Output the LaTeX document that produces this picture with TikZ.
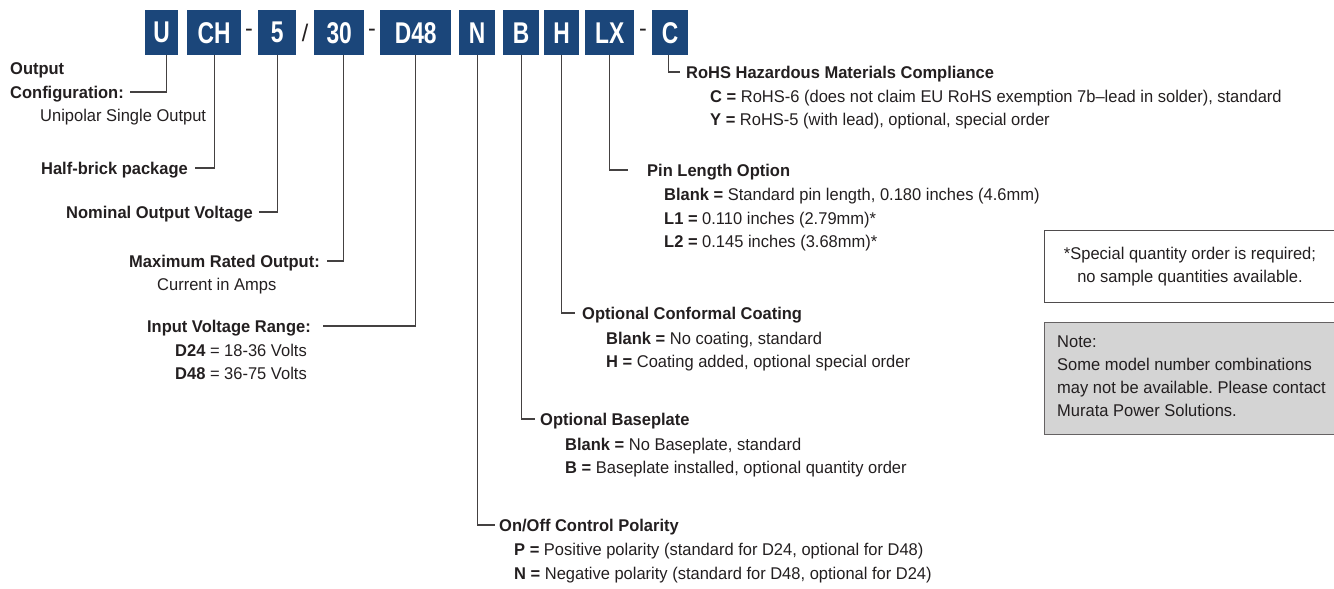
\documentclass[tikz,border=0pt]{standalone}
\usepackage{fontspec}
\setmainfont{Liberation Sans}[FakeStretch=0.97]
\newfontfamily\boxfont{Liberation Sans}[FakeStretch=0.76]
\definecolor{boxblue}{RGB}{27,70,122}
\definecolor{ink}{RGB}{35,31,32}
\definecolor{notegray}{RGB}{212,212,212}
\frenchspacing
\begin{document}
\begin{tikzpicture}[x=1pt,y=-1pt,
 code/.style={fill=boxblue, text=white, font=\boxfont\bfseries\fontsize{30}{30}\selectfont, minimum height=45pt, inner sep=0pt, anchor=north west},
 sepch/.style={text=ink, font=\fontsize{24}{24}\selectfont, inner sep=0pt},
 ttl/.style={font=\bfseries\fontsize{17}{20}\selectfont, text=ink, inner sep=0pt, anchor=base west},
 ttlr/.style={ttl, anchor=base east},
 txt/.style={font=\fontsize{17}{20}\selectfont, text=ink, inner sep=0pt, anchor=base west},
 lead/.style={draw=ink!85, line width=1.1pt}
]
\useasboundingbox (0,0) rectangle (1334,589);
% code boxes
\node[code, minimum width=33pt] (bU) at (145,10) {U};
\node[code, minimum width=54pt] (bCH) at (187,10) {CH};
\node[sepch] (s1) at (249,33) {-};
\node[code, minimum width=38pt] (b5) at (258,10) {5};
\node[sepch] (s2) at (305,33) {/};
\node[code, minimum width=50pt] (b30) at (314,10) {30};
\node[sepch] (s3) at (372,33) {-};
\node[code, minimum width=71pt] (bD) at (380,10) {D48};
\node[code, minimum width=36pt] (bN) at (459,10) {N};
\node[code, minimum width=36pt] (bB) at (503,10) {B};
\node[code, minimum width=35pt] (bH) at (544,10) {H};
\node[code, minimum width=49pt] (bLX) at (585,10) {LX};
\node[sepch] (s4) at (643,33) {-};
\node[code, minimum width=36pt] (bC) at (652,10) {C};
% left labels
\node[ttl] (lU1) at (10,74) {Output};
\node[ttl] (lU2) at (10,98) {Configuration:};
\node[txt] (lU3) at (40,121) {Unipolar Single Output};
\node[ttlr] (lCH) at (188,174) {Half-brick package};
\node[ttlr] (l5) at (253,218) {Nominal Output Voltage};
\node[ttlr] (l30) at (320,267) {Maximum Rated Output:};
\node[txt] (l30b) at (157,290) {Current in Amps};
\node[ttlr] (lD) at (311,332) {Input Voltage Range:};
\node[txt] (lD1) at (175,356) {\textbf{D24} = 18-36 Volts};
\node[txt] (lD2) at (175,379) {\textbf{D48} = 36-75 Volts};
% right labels
\node[ttl] (lC) at (686,78) {RoHS Hazardous Materials Compliance};
\node[txt] (lC1) at (710,102) {\textbf{C =} RoHS-6 (does not claim EU RoHS exemption 7b–lead in solder), standard};
\node[txt] (lC2) at (710,125) {\textbf{Y =} RoHS-5 (with lead), optional, special order};
\node[ttl] (lLX) at (647,176) {Pin Length Option};
\node[txt] (lLX1) at (664,200) {\textbf{Blank =} Standard pin length, 0.180 inches (4.6mm)};
\node[txt] (lLX2) at (664,224) {\textbf{L1 =} 0.110 inches (2.79mm)*};
\node[txt] (lLX3) at (664,247) {\textbf{L2 =} 0.145 inches (3.68mm)*};
\node[ttl] (lH) at (582,319) {Optional Conformal Coating};
\node[txt] (lH1) at (606,344) {\textbf{Blank =} No coating, standard};
\node[txt] (lH2) at (606,367) {\textbf{H =} Coating added, optional special order};
\node[ttl] (lB) at (540,425) {Optional Baseplate};
\node[txt] (lB1) at (565,450) {\textbf{Blank =} No Baseplate, standard};
\node[txt] (lB2) at (565,473) {\textbf{B =} Baseplate installed, optional quantity order};
\node[ttl] (lN) at (499,531) {On/Off Control Polarity};
\node[txt] (lN1) at (514,555) {\textbf{P =} Positive polarity (standard for D24, optional for D48)};
\node[txt] (lN2) at (514,579) {\textbf{N =} Negative polarity (standard for D48, optional for D24)};
% side boxes
\node[draw=ink!80, line width=1pt, anchor=north west, minimum width=291pt, minimum height=72pt, inner sep=0pt, align=center, font=\fontsize{17}{23}\selectfont, text=ink] (fn) at (1044,230) {*Special quantity order is required;\\ no sample quantities available.};
\node[draw=ink!70, fill=notegray, line width=1pt, anchor=north west, minimum width=291pt, minimum height=112pt, inner sep=0pt] (nt) at (1044,322) {};
\node[anchor=west, inner sep=0pt, align=left, font=\fontsize{17}{23}\selectfont, text=ink] (ntx) at ([xshift=13pt,yshift=2pt]nt.west) {Note:\\Some model number combinations\\may not be available. Please contact\\Murata Power Solutions.};
% leads
\draw[lead] ([xshift=5pt]bU.south) |- ([shift={(6pt,6pt)}]lU2.base east);
\draw[lead] (bCH.south) |- ([shift={(7pt,6pt)}]lCH.base east);
\draw[lead] (b5.south) |- ([shift={(6pt,6pt)}]l5.base east);
\draw[lead] ([xshift=4pt]b30.south) |- ([shift={(7pt,6pt)}]l30.base east);
\draw[lead] (bD.south) |- ([shift={(12pt,6pt)}]lD.base east);
\draw[lead] (bN.south) |- ([shift={(-4pt,6pt)}]lN.base west);
\draw[lead] (bB.south) |- ([shift={(-5pt,6pt)}]lB.base west);
\draw[lead] (bH.south) |- ([shift={(-7pt,6pt)}]lH.base west);
\draw[lead] (bLX.south) |- ([shift={(-19pt,6pt)}]lLX.base west);
\draw[lead] ([xshift=-2pt]bC.south) |- ([shift={(-6pt,6pt)}]lC.base west);
\end{tikzpicture}
\end{document}
